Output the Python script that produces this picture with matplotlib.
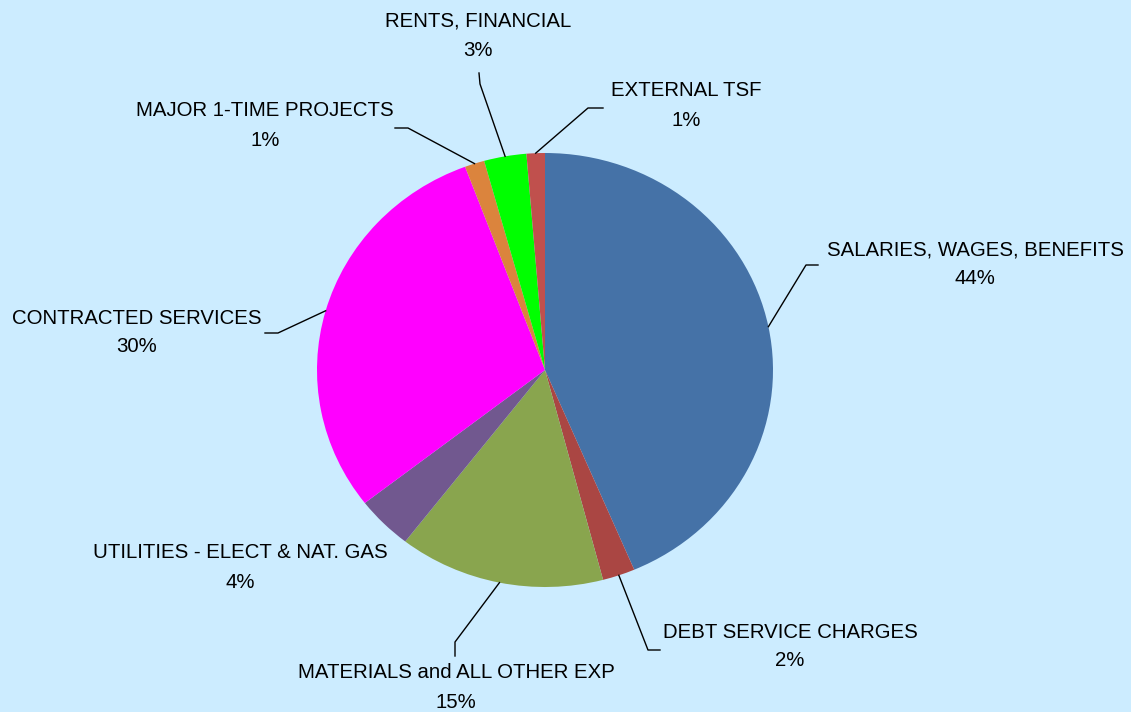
import matplotlib
matplotlib.use("Agg")
import matplotlib.pyplot as plt
import numpy as np

# ---- data ----
categories = ["SALARIES, WAGES, BENEFITS", "DEBT SERVICE CHARGES", "MATERIALS and ALL OTHER EXP",
              "UTILITIES - ELECT & NAT. GAS", "CONTRACTED SERVICES", "MAJOR 1-TIME PROJECTS",
              "RENTS, FINANCIAL", "EXTERNAL TSF"]
values = [43.6, 2.3, 14.6, 4.0, 29.8, 1.4, 3.0, 1.3]
colors = ["#4572A7", "#AA4643", "#89A54E", "#71588F", "#FF00FF", "#DB843D", "#00FF00", "#C0504D"]

# ---- layout (pixel positions of labels and leader lines) ----
W, H = 1131, 712
BG = "#CCECFF"
label_pos = [(975, 250), (790, 632), (456, 673), (240, 553), (137, 318), (265, 111), (478, 21), (686, 91)]
line_gap = 29
leaders = [[(806, 265), (818, 265)], [(648, 650), (660, 650)], [(455, 642), (455, 656)], None,
           [(278, 333), (265, 333)], [(408, 128), (395, 128)], [(480, 84), (479, 73)],
           [(588, 108), (603, 108)]]

cx, cy, rx, ry = 545, 370, 228, 217

fig = plt.figure(figsize=(W / 100, H / 100), dpi=100, facecolor=BG)
pax = fig.add_axes([(cx - rx) / W, (H - cy - ry) / H, 2 * rx / W, 2 * ry / H])
pax.set_facecolor("none")
wedges, _ = pax.pie(values, colors=colors, startangle=90, counterclock=False, radius=1,
                    wedgeprops=dict(linewidth=0))
pax.set_aspect("auto")
pax.set_xlim(-1, 1)
pax.set_ylim(-1, 1)
pax.axis("off")

oax = fig.add_axes([0, 0, 1, 1], zorder=5)
oax.set_xlim(0, W)
oax.set_ylim(H, 0)
oax.axis("off")
oax.patch.set_alpha(0)

total = sum(values)
font = dict(family=["Liberation Sans", "DejaVu Sans"], fontsize=14.7, color="black",
            ha="center", va="center")
for i, w in enumerate(wedges):
    pct = values[i] / total * 100
    x, y = label_pos[i]
    oax.text(x, y, categories[i], **font)
    oax.text(x, y + line_gap, f"{pct:.0f}%", **font)
    if leaders[i] is not None:
        mid = np.deg2rad((w.theta1 + w.theta2) / 2)
        dx, dy = pax.transData.transform((np.cos(mid), np.sin(mid)))
        ax0, ay0 = dx, H - dy
        pts = [(ax0, ay0)] + leaders[i]
        oax.plot([p[0] for p in pts], [p[1] for p in pts], color="black", lw=1.0)

fig.savefig("out.png", dpi=100, facecolor=BG)
